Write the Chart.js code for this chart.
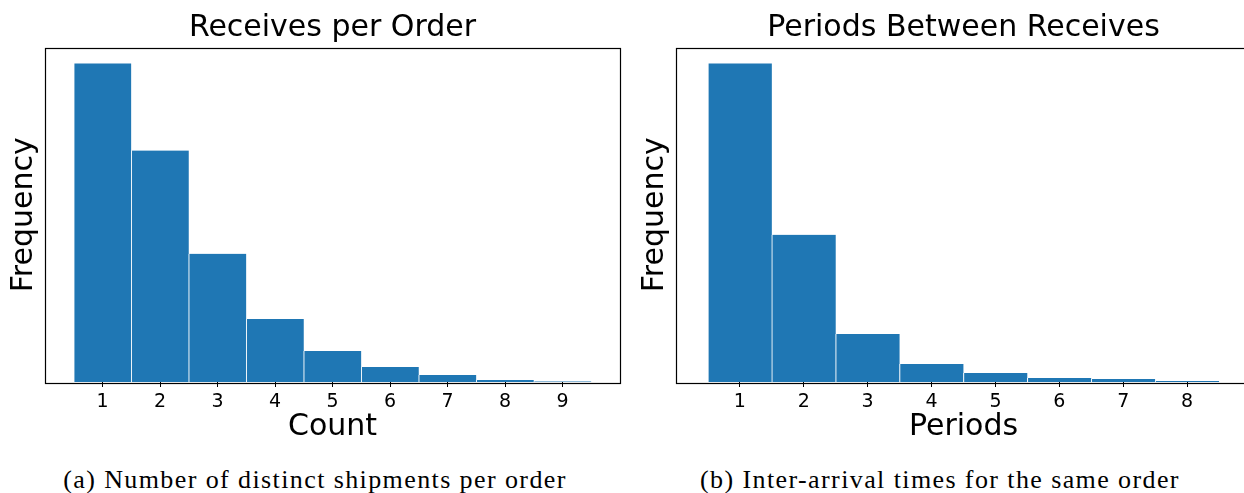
<!DOCTYPE html>
<html>
<head>
<meta charset="utf-8">
<script src="https://cdn.jsdelivr.net/npm/chart.js@4.4.1/dist/chart.umd.min.js"></script>
<style>
  html, body { margin: 0; padding: 0; background: #fff; overflow: hidden; }
  body { width: 1244px; height: 493px; position: relative; }
  .plot { position: absolute; top: 0; width: 640px; height: 445px; }
  .caption {
    position: absolute; top: 465px; font-family: "Liberation Serif", serif;
    font-size: 26px; letter-spacing: 1.4px; color: #000; white-space: nowrap; transform: translateX(-50%);
  }
</style>
</head>
<body>
  <div class="plot" style="left:0px;"><canvas id="chart-receives"></canvas></div>
  <div class="plot" style="left:631px;"><canvas id="chart-periods"></canvas></div>
  <div class="caption" style="left:315px;">(a) Number of distinct shipments per order</div>
  <div class="caption" style="left:940px;">(b) Inter-arrival times for the same order</div>

<script>
// Receives per order (relative frequency)
const receivesCounts = [1, 2, 3, 4, 5, 6, 7, 8, 9];
const receivesFreq = [318, 231, 128, 63, 31, 15, 7, 2, 0.6];

// Periods between receives
const periodsValues = [1, 2, 3, 4, 5, 6, 7, 8];
const periodsFreq = [318, 147, 48, 18, 9, 4, 3, 1];

const barColor = '#1f77b4';
const textColor = '#000000';

// draws the full matplotlib-style box round the plot area
const boxPlugin = {
  id: 'box',
  afterDatasetsDraw(chart) {
    const { ctx, chartArea: a } = chart;
    ctx.save();
    ctx.strokeStyle = '#000';
    ctx.lineWidth = 1.2;
    ctx.strokeRect(Math.round(a.left) + 0.5, Math.round(a.top) + 0.5,
      Math.round(a.right - a.left), Math.round(a.bottom - a.top));
    ctx.restore();
  }
};

function histChart(id, title, xLabel, xs, ys, xMax) {
  const ctx = document.getElementById(id).getContext('2d');
  return new Chart(ctx, {
    type: 'bar',
    data: {
      datasets: [{
        data: xs.map((x, i) => ({ x: x, y: ys[i] })),
        backgroundColor: barColor,
        borderColor: '#ffffff',
        borderWidth: { left: 1, right: 0, top: 0, bottom: 0 },
        borderSkipped: false,
        barPercentage: 1,
        categoryPercentage: 1
      }]
    },
    options: {
      responsive: true,
      maintainAspectRatio: false,
      animation: false,
      layout: { padding: { left: 0, right: 20, top: 0, bottom: 0 } },
      plugins: {
        legend: { display: false },
        tooltip: { enabled: false },
        title: {
          display: true,
          text: title,
          fullSize: false,
          color: textColor,
          font: { family: 'DejaVu Sans', size: 30, weight: 'normal', lineHeight: 1.2 },
          padding: { top: 10, bottom: 1.5 }
        }
      },
      scales: {
        x: {
          type: 'linear',
          min: 0,
          max: xMax,
          offset: false,
          grid: { display: true, offset: false, drawOnChartArea: false, drawTicks: true, tickLength: 5, color: '#000' },
          border: { display: false },
          ticks: {
            stepSize: 1,
            color: textColor,
            padding: 4,
            maxRotation: 0,
            font: { family: 'DejaVu Sans', size: 19 },
            callback: v => (v >= 1 && v <= xs[xs.length - 1]) ? String(v) : null
          },
          title: {
            display: true,
            text: xLabel,
            color: textColor,
            font: { family: 'DejaVu Sans', size: 30 },
            padding: { top: 3, bottom: 0 }
          },
          afterFit: s => { s.height = 63; }
        },
        y: {
          min: 0,
          max: Math.max(...ys) * 1.05,
          grid: { display: false },
          border: { display: false },
          ticks: { display: false },
          title: {
            display: true,
            text: 'Frequency',
            color: textColor,
            font: { family: 'DejaVu Sans', size: 30 },
            padding: { top: 6, bottom: 0 }
          },
          afterFit: s => { s.width = 45; }
        }
      }
    },
    plugins: [boxPlugin]
  });
}

histChart('chart-receives', 'Receives per Order', 'Count', receivesCounts, receivesFreq, 10);
histChart('chart-periods', 'Periods Between Receives', 'Periods', periodsValues, periodsFreq, 9);
</script>
</body>
</html>
